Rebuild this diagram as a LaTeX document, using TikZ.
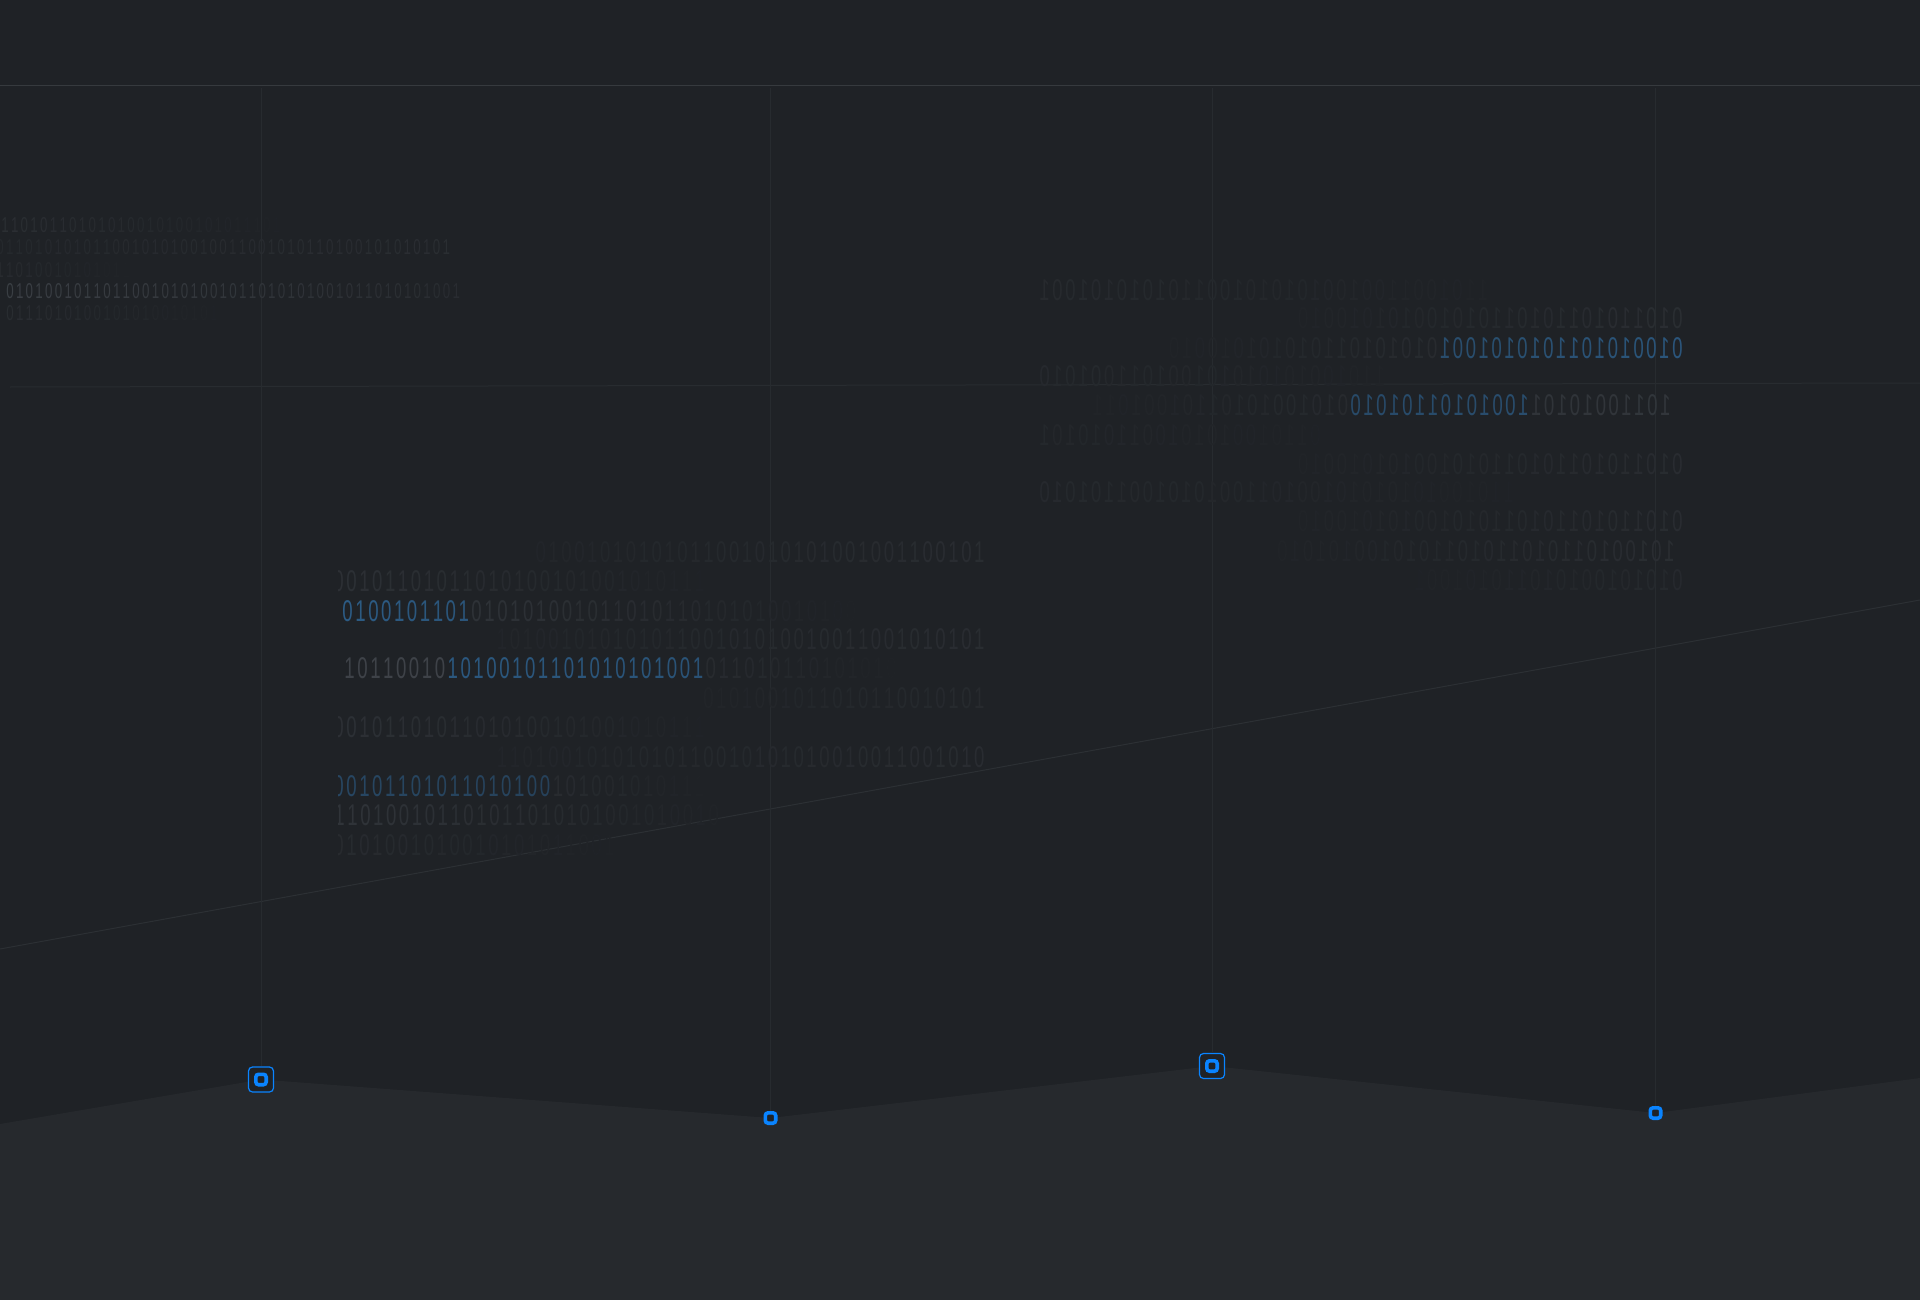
\documentclass[tikz,border=0pt]{standalone}
\usepackage{fontspec}
\usepackage{graphicx}
\newfontfamily\binfont[FakeStretch=0.62]{Liberation Sans}
\definecolor{bgc}{HTML}{1F2226}
\definecolor{lineT}{HTML}{363A3E}
\definecolor{lineV}{HTML}{272B2F}
\definecolor{lineF}{HTML}{282C30}
\definecolor{lineD}{HTML}{2C3034}
\definecolor{mount}{HTML}{26292D}
\definecolor{accent}{HTML}{0A84FF}
\definecolor{greyT}{HTML}{41464C}
\definecolor{blueT}{HTML}{2C5B84}
\ExplSyntaxOn
\dim_new:N \l_bin_pitch_dim
\int_new:N \l_seg_i_int
\int_new:N \l_seg_n_int
\tl_new:N \l_seg_p_tl
\NewDocumentCommand\binpitch{m}{\dim_set:Nn \l_bin_pitch_dim {#1}}
\NewDocumentCommand\seg{mmmm}
  {
    \int_set:Nn \l_seg_n_int { \str_count:n {#4} }
    \int_zero:N \l_seg_i_int
    \str_map_inline:nn {#4}
      {
        \int_incr:N \l_seg_i_int
        \tl_set:Nx \l_seg_p_tl { \int_eval:n { #2 + ( #3 - #2 ) * ( \l_seg_i_int - 1 ) / \int_max:nn { \l_seg_n_int - 1 } { 1 } } }
        \makebox[\l_bin_pitch_dim][c]{\color{#1!\l_seg_p_tl!bgc}##1}
      }
  }
\ExplSyntaxOff
\tikzset{
  gridv/.style={draw=lineV, line width=1pt},
  toprule/.style={draw=lineT, line width=1pt},
  faintrule/.style={draw=lineF, line width=1pt},
  diagrule/.style={draw=lineD, line width=1pt},
  tlbin/.style={font=\binfont\fontsize{21.5}{21.5}\selectfont\binpitch{9.7pt}, inner sep=0pt},
  midbin/.style={font=\binfont\fontsize{30}{30}\selectfont\binpitch{12.9pt}, inner sep=0pt},
  framebox/.style={draw=accent, line width=1.2pt, rounded corners=4pt, minimum size=25pt, fill=bgc, inner sep=0pt},
  dotbox/.style={draw=accent, line width=3.6pt, rounded corners=2.8pt, minimum size=10.4pt, fill=bgc, inner sep=0pt},
}
\begin{document}
\begin{tikzpicture}[x=1pt, y=-1pt]
\useasboundingbox (0,0) rectangle (1920,1300);
\fill[bgc] (0,0) rectangle (1920,1300);
\clip (0,0) rectangle (1920,1300);

% coordinates
\coordinate (p1) at (261,1079.5);
\coordinate (p2) at (770.5,1118);
\coordinate (p3) at (1212,1066);
\coordinate (p4) at (1655.5,1113);
\coordinate (mL) at (0,1124);
\coordinate (mR) at (1920,1078);
\coordinate (mBR) at (1920,1300);
\coordinate (mBL) at (0,1300);
\coordinate (tL) at (0,86);
\coordinate (tR) at (1920,86);
\coordinate (hL) at (10,387);
\coordinate (hR) at (1920,383);
\coordinate (dL) at (0,949);
\coordinate (dR) at (1920,600);
\coordinate (v1) at (261,88);
\coordinate (v2) at (770.5,88);
\coordinate (v3) at (1212,88);
\coordinate (v4) at (1655.5,88);

% mountain
\fill[mount] (mL) -- (p1) -- (p2) -- (p3) -- (p4) -- (mR) -- (mBR) -- (mBL) -- cycle;

% rules
\draw[toprule] (tL) -- (tR);
\draw[faintrule] (hL) -- (hR);
\draw[diagrule] (dL) -- (dR);

% nodes
\node[framebox] (f1) at (p1) {};
\node[framebox] (f3) at (p3) {};
\node[dotbox] (n1) at (p1) {};
\node[dotbox] (n2) at (p2) {};
\node[dotbox] (n3) at (p3) {};
\node[dotbox] (n4) at (p4) {};

% vertical lines
\draw[gridv] (v1) -- (f1.north);
\draw[gridv] (v2) -- (n2.north);
\draw[gridv] (v3) -- (f3.north);
\draw[gridv] (v4) -- (n4.north);

% top-left block
\begin{scope}
\clip (0,200) rectangle (470,330);
\node[tlbin, anchor=west] (tl1) at (0,225.5) {\seg{greyT}{35}{4}{11010110101010010100101011101}};
\node[tlbin, anchor=west] (tl2) at (-5,247.5) {\seg{greyT}{18}{32}{01101010101100101010010011001010110100101010101}};
\node[tlbin, anchor=west] (tl3) at (-5,270) {\seg{greyT}{25}{3}{11010010101011}};
\node[tlbin, anchor=west] (tl4) at (5,291) {\seg{greyT}{80}{28}{01010010110110010101001011010101001011010101001}};
\node[tlbin, anchor=west] (tl5) at (5,313.5) {\seg{greyT}{30}{4}{0111010100101010010101}};
\end{scope}

% middle block
\begin{scope}
\clip (338,530) rectangle (1000,870);
\node[midbin, anchor=east] (ma) at (986,552.3) {\seg{greyT}{10}{30}{01001010101011001010101001001100101}};
\node[midbin, anchor=west] (mb) at (332,581.6) {\seg{greyT}{40}{4}{00101101011010100101001010111}};
\node[midbin, anchor=west] (mc) at (341,611) {\seg{blueT}{100}{90}{0100101101}\seg{greyT}{45}{3}{010101001011010110101010010100}};
\node[midbin, anchor=east] (md) at (986,639.2) {\seg{greyT}{10}{30}{10100101010101100101010010011001010101}};
\node[midbin, anchor=west] (me) at (343,668.6) {\seg{greyT}{90}{90}{10110010}\seg{blueT}{95}{85}{10100101101010101001}\seg{greyT}{25}{3}{011010110101010}};
\node[midbin, anchor=east] (mf) at (986,698) {\seg{greyT}{8}{22}{0101001011010110010101}};
\node[midbin, anchor=west] (mg) at (332,727.4) {\seg{greyT}{40}{4}{00101101011010100101001010111}};
\node[midbin, anchor=east] (mh) at (986,756.7) {\seg{greyT}{10}{28}{11010010101010110010101010010011001010}};
\node[midbin, anchor=west] (mi) at (332,786.1) {\seg{blueT}{65}{55}{00101101011010100}\seg{greyT}{25}{3}{101001010111}};
\node[midbin, anchor=west] (mj) at (333,815.5) {\seg{greyT}{50}{5}{110100101101011010101001010010}};
\node[midbin, anchor=west] (mk) at (332,844.9) {\seg{greyT}{25}{3}{0101001010010101011001}};
\end{scope}

% right (mirrored) block
\begin{scope}
\clip (1030,270) rectangle (1681,600);
\node[midbin, anchor=west] (r1) at (1038,290.2) {\reflectbox{\seg{greyT}{6}{22}{11010011001001010101001101010101001}}};
\node[midbin, anchor=east] (r2) at (1684,318.4) {\reflectbox{\seg{greyT}{32}{6}{010110101101011010100101010010}}};
\node[midbin, anchor=east] (r3) at (1684,347.8) {\reflectbox{\seg{blueT}{90}{75}{0100101011010101001}\seg{greyT}{25}{5}{010101011010101010010}}};
\node[midbin, anchor=west] (r4) at (1038,375.9) {\reflectbox{\seg{greyT}{5}{20}{110100101010101001011001010}}};
\node[midbin, anchor=east] (r5) at (1672,405.3) {\reflectbox{\seg{greyT}{55}{50}{10110010101}\seg{blueT}{75}{70}{10010101101010}\seg{greyT}{22}{5}{01010010101101001011}}};
\node[midbin, anchor=west] (r6) at (1038,434.7) {\reflectbox{\seg{greyT}{4}{15}{0110100101010011010101}}};
\node[midbin, anchor=east] (r7) at (1684,464.1) {\reflectbox{\seg{greyT}{28}{6}{010110101101011010100101010010}}};
\node[midbin, anchor=west] (r8) at (1038,492.2) {\reflectbox{\seg{greyT}{4}{20}{1101001010101010010110010101001101010}}};
\node[midbin, anchor=east] (r9) at (1684,521.6) {\reflectbox{\seg{greyT}{28}{6}{010110101101011010100101010010}}};
\node[midbin, anchor=east] (r10) at (1676,551) {\reflectbox{\seg{greyT}{32}{6}{1010010110101101011010100101010}}};
\node[midbin, anchor=east] (r11) at (1684,580.4) {\reflectbox{\seg{greyT}{20}{4}{010101001010110101001}}};
\end{scope}
\end{tikzpicture}
\end{document}
